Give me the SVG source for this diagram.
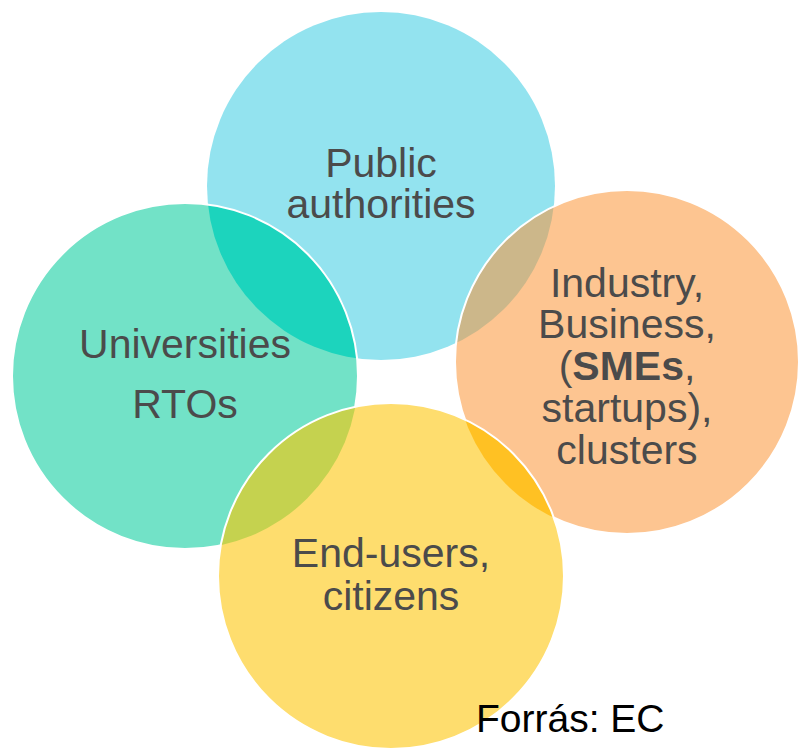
<svg xmlns="http://www.w3.org/2000/svg" width="798" height="750" viewBox="0 0 798 750">
<style>
.lbl{font-family:"Liberation Sans",Arial,sans-serif;font-size:41px;fill:#4B4B4B;text-anchor:middle}
.edge{fill:none;stroke:#FFFFFF;stroke-width:2}
.src{font-family:"Liberation Sans",Arial,sans-serif;font-size:39px;fill:#000000}
</style>
<defs>
<clipPath id="cBlue"><circle cx="381" cy="186" r="174"/></clipPath>
<clipPath id="cTeal"><circle cx="185" cy="376" r="173"/></clipPath>
<clipPath id="cOrange"><circle cx="627" cy="362" r="172"/></clipPath>
</defs>
<rect width="798" height="750" fill="#FFFFFF"/>
<g id="public-authorities">
<circle cx="381" cy="186" r="174" fill="#93E3EF"/>
</g>
<g id="universities">
<circle cx="185" cy="376" r="173" fill="#72E2C7"/>
<circle cx="185" cy="376" r="173" fill="#1CD4BD" clip-path="url(#cBlue)"/>
<circle class="edge" cx="185" cy="376" r="173"/>
</g>
<g id="industry">
<circle cx="627" cy="362" r="172" fill="#FDC591"/>
<circle cx="627" cy="362" r="172" fill="#CCB78A" clip-path="url(#cBlue)"/>
<circle class="edge" cx="627" cy="362" r="172"/>
</g>
<g id="end-users">
<circle cx="391" cy="576" r="173" fill="#FEDD6E"/>
<circle cx="391" cy="576" r="173" fill="#C5D24F" clip-path="url(#cTeal)"/>
<circle cx="391" cy="576" r="173" fill="#FFC123" clip-path="url(#cOrange)"/>
<circle class="edge" cx="391" cy="576" r="173"/>
</g>
<g id="labels">
<text class="lbl" x="381" y="177">Public</text>
<text class="lbl" x="381" y="218">authorities</text>
<text class="lbl" x="185" y="358">Universities</text>
<text class="lbl" x="185" y="418">RTOs</text>
<text class="lbl" x="627" y="297">Industry,</text>
<text class="lbl" x="627" y="338">Business,</text>
<text class="lbl" x="627" y="380">(<tspan font-weight="bold">SMEs</tspan>,</text>
<text class="lbl" x="627" y="422">startups),</text>
<text class="lbl" x="627" y="464">clusters</text>
<text class="lbl" x="391" y="567">End-users,</text>
<text class="lbl" x="391" y="610">citizens</text>
</g>
<text class="src" x="476" y="732">Forrás: EC</text>
</svg>
